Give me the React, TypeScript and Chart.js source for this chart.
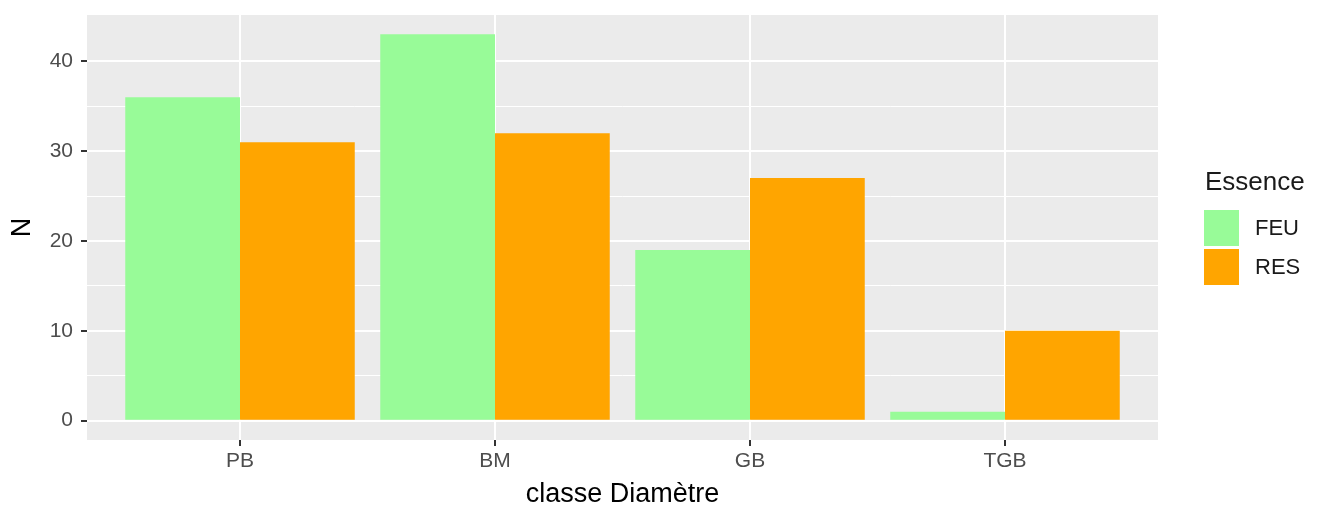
import React, { useEffect, useRef } from "react";
import { Chart, registerables } from "chart.js";

Chart.register(...registerables);

const categories = ["PB", "BM", "GB", "TGB"];
const feuValues = [36, 43, 19, 1];
const resValues = [31, 32, 27, 10];
const seriesNames = ["FEU", "RES"];
const seriesColors = ["#98FB98", "#FFA500"];
const yMajorTicks = [0, 10, 20, 30, 40];
const yMinorTicks = [5, 15, 25, 35];
const xTitle = "classe Diamètre";
const yTitle = "N";
const legendTitle = "Essence";

const FONT = "'Liberation Sans', Arial, Helvetica, sans-serif";

const panelBg = {
  id: "panelBg",
  beforeDraw(chart: any) {
    const { ctx, chartArea } = chart;
    if (!chartArea) return;
    ctx.save();
    ctx.fillStyle = "#EBEBEB";
    ctx.fillRect(chartArea.left, chartArea.top, chartArea.right - chartArea.left, chartArea.bottom - chartArea.top);
    ctx.restore();
  },
};

const customLegend = {
  id: "customLegend",
  afterDraw(chart: any) {
    const { ctx, chartArea } = chart;
    const x0 = chartArea.right + 46;
    ctx.save();
    ctx.textBaseline = "middle";
    ctx.textAlign = "left";
    ctx.fillStyle = "#1A1A1A";
    ctx.font = `26px ${FONT}`;
    ctx.fillText(legendTitle, x0 + 1, 183);
    const keyH = 37;
    const top = 210;
    chart.data.datasets.forEach((ds: any, i: number) => {
      const y = top + i * (keyH + 2);
      ctx.fillStyle = ds.backgroundColor;
      ctx.fillRect(x0, y, 35, keyH - 1);
      ctx.fillStyle = "#1A1A1A";
      ctx.font = `22px ${FONT}`;
      ctx.fillText(ds.label, x0 + 51, y + keyH / 2);
    });
    ctx.restore();
  },
};

export default function App() {
  const ref = useRef<HTMLCanvasElement>(null);

  useEffect(() => {
    if (!ref.current) return;
    const chart = new Chart(ref.current, {
      type: "bar",
      data: {
        datasets: [
          {
            label: seriesNames[0],
            data: categories.map((_, i) => ({ x: i, y: feuValues[i] })),
            backgroundColor: seriesColors[0],
            borderWidth: 0,
          },
          {
            label: seriesNames[1],
            data: categories.map((_, i) => ({ x: i, y: resValues[i] })),
            backgroundColor: seriesColors[1],
            borderWidth: 0,
          },
        ],
      },
      options: {
        animation: false,
        responsive: true,
        maintainAspectRatio: false,
        layout: { padding: { left: 0, top: 15, right: 160, bottom: 0 } },
        datasets: { bar: { categoryPercentage: 0.9, barPercentage: 1.0 } },
        plugins: { legend: { display: false }, tooltip: { enabled: false }, title: { display: false } },
        scales: {
          x: {
            type: "linear",
            offset: false,
            min: -0.6,
            max: 3.6,
            afterBuildTicks: (scale: any) => {
              scale.ticks = categories.map((_, i) => ({ value: i }));
            },
            afterFit: (scale: any) => {
              scale.height = 69;
              scale.paddingLeft = 0;
              scale.paddingRight = 0;
            },
            border: { display: false },
            grid: {
              offset: false,
              color: "#FFFFFF",
              lineWidth: 2,
              drawTicks: true,
              tickLength: 6,
              tickColor: "#333333",
              tickWidth: 2,
            },
            ticks: {
              maxRotation: 0,
              autoSkip: false,
              padding: 3,
              color: "#4D4D4D",
              font: { family: FONT, size: 21 },
              callback: (v: any) => categories[Math.round(Number(v))] ?? "",
            },
            title: {
              display: true,
              text: xTitle,
              color: "#000000",
              font: { family: FONT, size: 27 },
              padding: { top: 0, bottom: -2 },
            },
          },
          y: {
            type: "linear",
            min: -2.15,
            max: 45.15,
            afterBuildTicks: (scale: any) => {
              scale.ticks = [...yMajorTicks, ...yMinorTicks].sort((a, b) => a - b).map((v) => ({ value: v }));
            },
            afterFit: (scale: any) => {
              scale.width = 87;
              scale.paddingTop = 0;
              scale.paddingBottom = 0;
            },
            border: { display: false },
            grid: {
              color: "#FFFFFF",
              lineWidth: (c: any) => (c.tick && c.tick.value % 10 === 0 ? 2 : 1),
              drawTicks: true,
              tickLength: 6,
              tickWidth: 2,
              tickColor: (c: any) => (c.tick && c.tick.value % 10 === 0 ? "#333333" : "rgba(0,0,0,0)"),
            },
            ticks: {
              padding: 8,
              color: "#4D4D4D",
              font: { family: FONT, size: 21 },
              callback: (v: any) => (Number(v) % 10 === 0 ? String(v) : ""),
            },
            title: {
              display: true,
              text: yTitle,
              color: "#000000",
              font: { family: FONT, size: 27 },
              padding: { top: 6, bottom: 0 },
            },
          },
        },
      },
      plugins: [panelBg, customLegend],
    } as any);
    return () => chart.destroy();
  }, []);

  return (
    <div style={{ position: "absolute", left: 0, top: 0, width: 1318, height: 509, background: "#FFFFFF" }}>
      <canvas ref={ref} />
    </div>
  );
}
